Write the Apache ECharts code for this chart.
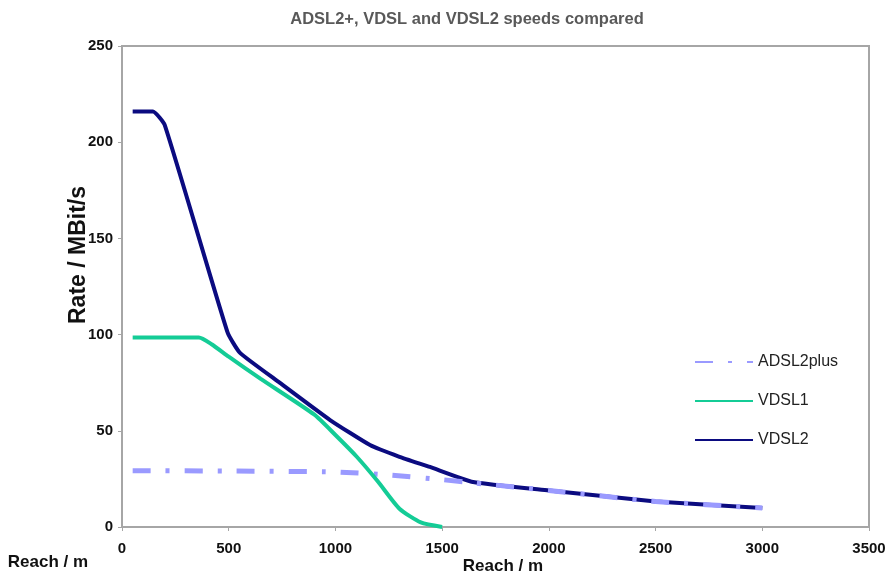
<!DOCTYPE html>
<html>
<head>
<meta charset="utf-8">
<script src="https://cdn.jsdelivr.net/npm/echarts@6/dist/echarts.min.js"></script>
<style>
  html, body { margin: 0; padding: 0; background: #fff; }
  #chart { width: 886px; height: 573px; }
</style>
</head>
<body>
<div id="chart"></div>
<script>
// reach in metres, rate in MBit/s
const adsl2plus = [
  [50, 29.3], [500, 29.1], [1000, 28.6], [1250, 27], [1500, 24.6],
  [1650, 22.9], [2000, 19], [2500, 13.3], [3000, 9.9]
];
const vdsl1 = [
  [50, 98.5], [360, 98.5], [420, 95], [500, 88.5], [650, 77], [900, 58.5],
  [1000, 47.8], [1100, 36.5], [1200, 23.5], [1300, 9.5], [1400, 2.4], [1500, 0]
];
const vdsl2 = [
  [50, 216], [145, 216], [200, 209], [495, 101], [553, 90.5], [740, 74.9],
  [975, 55.6], [1162, 42.6], [1300, 36.5], [1443, 31.2], [1645, 23.4],
  [2000, 19], [2500, 13.3], [3000, 9.9]
];
const xTicks = { min: 0, max: 3500, interval: 500 };
const yTicks = { min: 0, max: 250, interval: 50 };

const chart = echarts.init(document.getElementById("chart"));
const font = "Arial, 'Liberation Sans', sans-serif";

const option = {
  animation: false,
  // 标题
  title: {
    text: "ADSL2+, VDSL and VDSL2 speeds compared",
    left: 462,
    top: 6,
    textAlign: "center",
    textStyle: { color: "#595959", fontSize: 16.5, fontWeight: "bold", fontFamily: font },
  },
  grid: {
    left: 122, top: 46, right: 17, bottom: 46,
    outerBoundsMode: "none",
    containLabel: false,
    show: true, borderColor: "#a6a6a6", borderWidth: 2, backgroundColor: "#fff",
  },
  legend: {
    data: ["ADSL2plus", "VDSL1", "VDSL2"],
    orient: "vertical",
    left: 689,
    top: 349,
    itemWidth: 58,
    itemHeight: 14,
    itemGap: 23,
    itemStyle: { opacity: 0 },
    textStyle: { color: "#222", fontSize: 16, fontFamily: font },
  },
  xAxis: {
    type: "value",
    min: xTicks.min, max: xTicks.max, interval: xTicks.interval,
    axisLine: { lineStyle: { color: "#a6a6a6", width: 2 } },
    axisTick: { show: true, length: 4, lineStyle: { color: "#a6a6a6" } },
    axisLabel: { color: "#111", fontSize: 15, fontWeight: "bold", margin: 14, fontFamily: font,
      formatter: (v) => String(v) },
    splitLine: { show: false },
  },
  yAxis: {
    type: "value",
    min: yTicks.min, max: yTicks.max, interval: yTicks.interval,
    axisLine: { show: true, lineStyle: { color: "#a6a6a6", width: 2 } },
    axisTick: { show: true, length: 4, lineStyle: { color: "#a6a6a6" } },
    axisLabel: { color: "#111", fontSize: 15, fontWeight: "bold", margin: 9, fontFamily: font,
      formatter: (v) => String(v) },
    splitLine: { show: false },
  },
  graphic: [
    {
      type: "text", x: 79, y: 255, rotation: Math.PI / 2,
      style: { text: "Rate / MBit/s", align: "center", verticalAlign: "middle",
        font: "bold 23px " + font, fill: "#111" },
    },
    {
      type: "text", x: 48, y: 562,
      style: { text: "Reach / m", align: "center", verticalAlign: "middle",
        font: "bold 17px " + font, fill: "#111" },
    },
    {
      type: "text", x: 503, y: 566,
      style: { text: "Reach / m", align: "center", verticalAlign: "middle",
        font: "bold 17px " + font, fill: "#111" },
    },
  ],
  series: [
    {
      name: "VDSL2", type: "line", data: vdsl2, showSymbol: false, symbol: "none",
      smooth: 0.15,
      lineStyle: { color: "#0b0b80", width: 4 }, itemStyle: { color: "#0b0b80" },
    },
    {
      name: "ADSL2plus", type: "line", data: adsl2plus, showSymbol: false, symbol: "none",
      smooth: 0.2,
      lineStyle: { color: "#9a9aff", width: 5, type: [18, 15, 4, 15], cap: "butt" },
      itemStyle: { color: "#9a9aff" },
    },
    {
      name: "VDSL1", type: "line", data: vdsl1, showSymbol: false, symbol: "none",
      smooth: 0.2,
      lineStyle: { color: "#14cc96", width: 4 }, itemStyle: { color: "#14cc96" },
    },
  ],
};
chart.setOption(option);
</script>
</body>
</html>
